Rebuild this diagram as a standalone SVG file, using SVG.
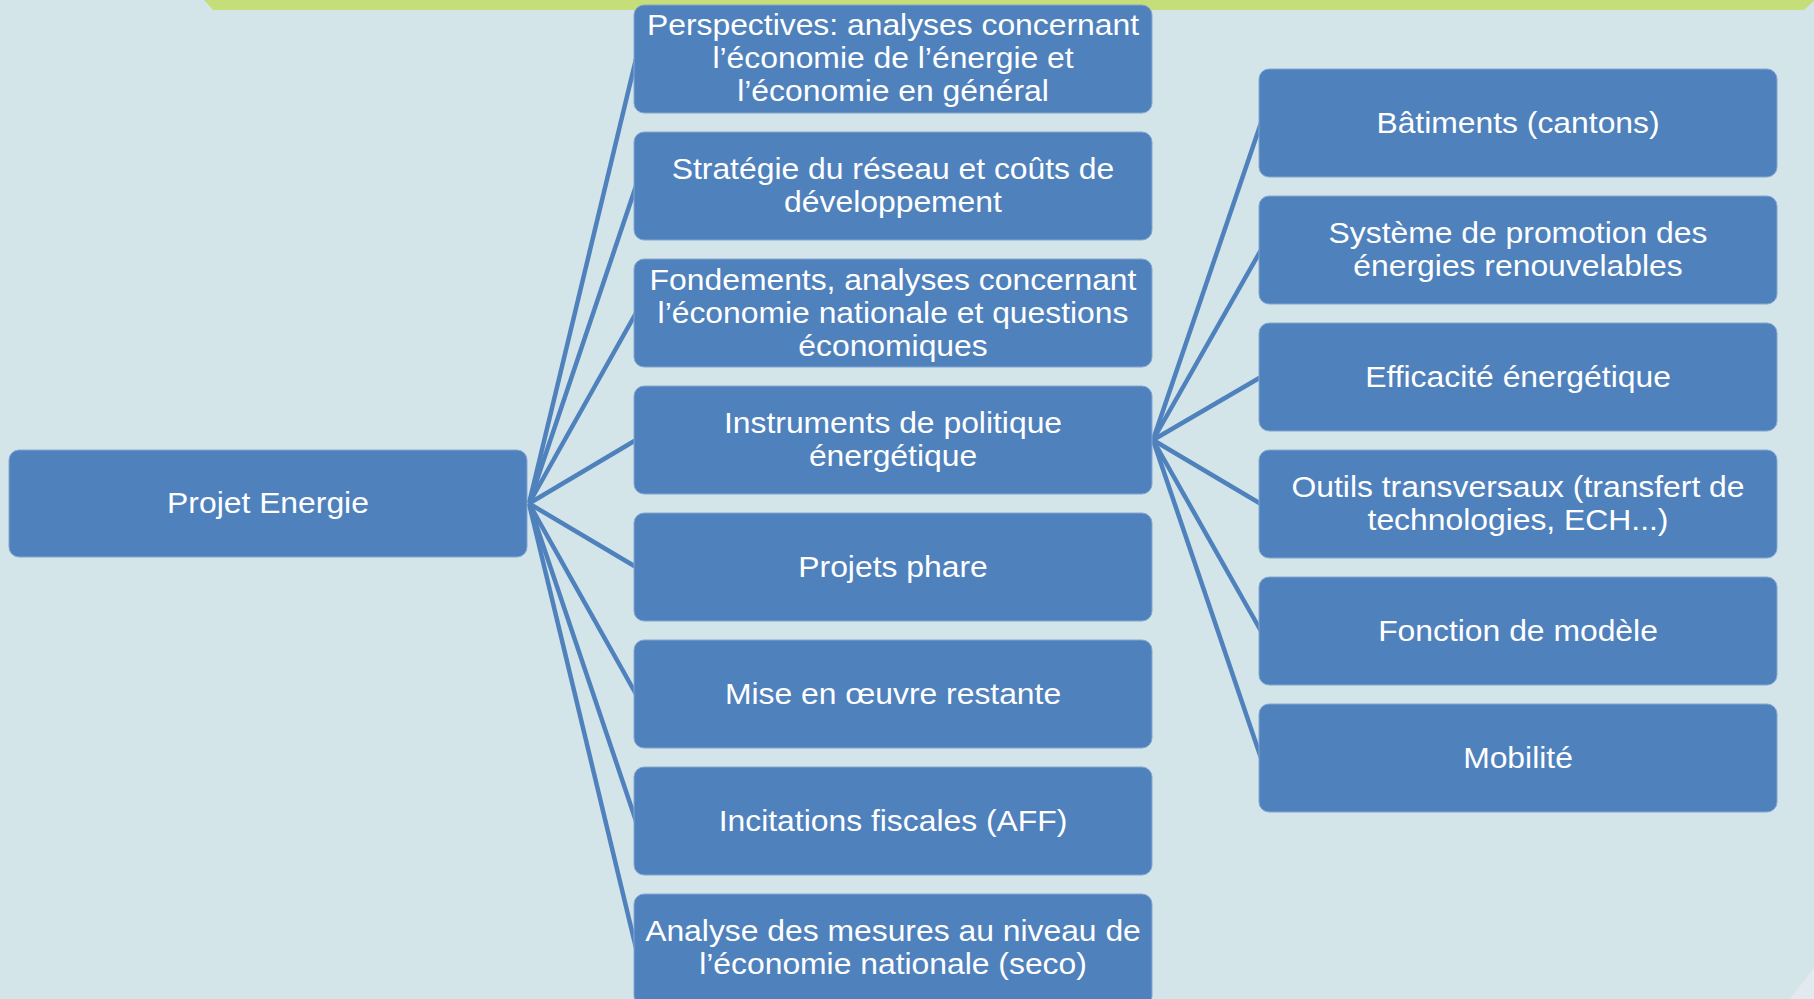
<svg xmlns="http://www.w3.org/2000/svg" width="1814" height="999" viewBox="0 0 1814 999">
<style>
.box{fill:#4F81BD;stroke:#86A6D3;stroke-width:1}
.lbl{font-family:"Liberation Sans",Arial,sans-serif;font-size:29.5px;fill:#FFFFFF;text-anchor:middle}
.conn line{stroke:#4F81BD;stroke-width:4.5;stroke-linecap:butt}
</style>
<rect x="0" y="0" width="1814" height="999" fill="#D3E5E9"/>
<polygon points="204,0 213,10 1804,10 1814,1 1814,0" fill="#C5DE79"/>
<polygon points="1814,968 1814,999 1790,999" fill="#E2EAEF"/>
<g id="connectors" class="conn">
<line x1="529" y1="503.5" x2="636" y2="59"/>
<line x1="529" y1="503.5" x2="636" y2="186"/>
<line x1="529" y1="503.5" x2="636" y2="313"/>
<line x1="529" y1="503.5" x2="636" y2="440"/>
<line x1="529" y1="503.5" x2="636" y2="567"/>
<line x1="529" y1="503.5" x2="636" y2="694"/>
<line x1="529" y1="503.5" x2="636" y2="821"/>
<line x1="529" y1="503.5" x2="636" y2="948"/>
<line x1="1153" y1="440" x2="1261" y2="123"/>
<line x1="1153" y1="440" x2="1261" y2="250"/>
<line x1="1153" y1="440" x2="1261" y2="377"/>
<line x1="1153" y1="440" x2="1261" y2="504"/>
<line x1="1153" y1="440" x2="1261" y2="631"/>
<line x1="1153" y1="440" x2="1261" y2="758"/>
</g>
<g id="n-projet">
<rect class="box" x="9" y="450" width="518" height="107" rx="10"/>
<text class="lbl" transform="translate(268,0) scale(1.08,1)" x="0" y="513.5">Projet Energie</text>
</g>
<g id="n-perspectives">
<rect class="box" x="634" y="5" width="518" height="108" rx="10"/>
<text class="lbl" transform="translate(893,0) scale(1.08,1)"><tspan x="0" y="35">Perspectives: analyses concernant</tspan><tspan x="0" y="68">l’économie de l’énergie et</tspan><tspan x="0" y="101">l’économie en général</tspan></text>
</g>
<g id="n-strategie">
<rect class="box" x="634" y="132" width="518" height="108" rx="10"/>
<text class="lbl" transform="translate(893,0) scale(1.08,1)"><tspan x="0" y="179.5">Stratégie du réseau et coûts de</tspan><tspan x="0" y="212.5">développement</tspan></text>
</g>
<g id="n-fondements">
<rect class="box" x="634" y="259" width="518" height="108" rx="10"/>
<text class="lbl" transform="translate(893,0) scale(1.08,1)"><tspan x="0" y="290">Fondements, analyses concernant</tspan><tspan x="0" y="323">l’économie nationale et questions</tspan><tspan x="0" y="356">économiques</tspan></text>
</g>
<g id="n-instruments">
<rect class="box" x="634" y="386" width="518" height="108" rx="10"/>
<text class="lbl" transform="translate(893,0) scale(1.08,1)"><tspan x="0" y="433.5">Instruments de politique</tspan><tspan x="0" y="466.5">énergétique</tspan></text>
</g>
<g id="n-phare">
<rect class="box" x="634" y="513" width="518" height="108" rx="10"/>
<text class="lbl" transform="translate(893,0) scale(1.08,1)" x="0" y="577">Projets phare</text>
</g>
<g id="n-miseenoeuvre">
<rect class="box" x="634" y="640" width="518" height="108" rx="10"/>
<text class="lbl" transform="translate(893,0) scale(1.08,1)" x="0" y="704">Mise en œuvre restante</text>
</g>
<g id="n-incitations">
<rect class="box" x="634" y="767" width="518" height="108" rx="10"/>
<text class="lbl" transform="translate(893,0) scale(1.08,1)" x="0" y="831">Incitations fiscales (AFF)</text>
</g>
<g id="n-analyse">
<rect class="box" x="634" y="894" width="518" height="112" rx="10"/>
<text class="lbl" transform="translate(893,0) scale(1.08,1)"><tspan x="0" y="941.5">Analyse des mesures au niveau de</tspan><tspan x="0" y="974.5">l’économie nationale (seco)</tspan></text>
</g>
<g id="n-batiments">
<rect class="box" x="1259" y="69" width="518" height="108" rx="10"/>
<text class="lbl" transform="translate(1518,0) scale(1.08,1)" x="0" y="133">Bâtiments (cantons)</text>
</g>
<g id="n-systeme">
<rect class="box" x="1259" y="196" width="518" height="108" rx="10"/>
<text class="lbl" transform="translate(1518,0) scale(1.08,1)"><tspan x="0" y="243.5">Système de promotion des</tspan><tspan x="0" y="276.5">énergies renouvelables</tspan></text>
</g>
<g id="n-efficacite">
<rect class="box" x="1259" y="323" width="518" height="108" rx="10"/>
<text class="lbl" transform="translate(1518,0) scale(1.08,1)" x="0" y="387">Efficacité énergétique</text>
</g>
<g id="n-outils">
<rect class="box" x="1259" y="450" width="518" height="108" rx="10"/>
<text class="lbl" transform="translate(1518,0) scale(1.08,1)"><tspan x="0" y="497.5">Outils transversaux (transfert de</tspan><tspan x="0" y="530.5">technologies, ECH...)</tspan></text>
</g>
<g id="n-fonction">
<rect class="box" x="1259" y="577" width="518" height="108" rx="10"/>
<text class="lbl" transform="translate(1518,0) scale(1.08,1)" x="0" y="641">Fonction de modèle</text>
</g>
<g id="n-mobilite">
<rect class="box" x="1259" y="704" width="518" height="108" rx="10"/>
<text class="lbl" transform="translate(1518,0) scale(1.08,1)" x="0" y="768">Mobilité</text>
</g>
</svg>
